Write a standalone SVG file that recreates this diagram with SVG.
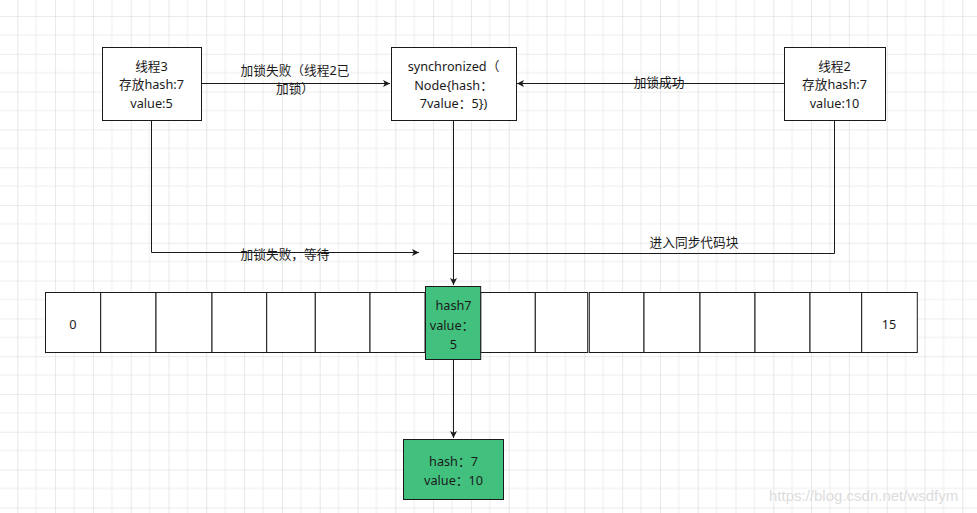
<svg xmlns="http://www.w3.org/2000/svg" width="977" height="513" viewBox="0 0 977 513">
<style>
.t{font-family:"Noto Sans","Noto Sans CJK SC",sans-serif;font-size:12.7px;fill:#1a1a1a;text-anchor:middle}
.box{fill:#fff;stroke:#1a1a1a;stroke-width:1}
.g{fill:#42c17e;stroke:#1a1a1a;stroke-width:1}
.e{fill:none;stroke:#1a1a1a;stroke-width:1}
.wm{font-family:"Liberation Sans",Arial,sans-serif;font-size:15px;fill:#dcdcdc;text-anchor:start}
</style>
<defs>
<pattern id="grid" patternUnits="userSpaceOnUse" x="17.3" y="16" width="37.8" height="37.8">
<path d="M18.9,0V37.8M0,18.9H37.8" stroke="#ededed" stroke-width="1" fill="none"/>
<path d="M0,0V37.8M0,0H37.8" stroke="#d9d9d9" stroke-width="1.2" fill="none"/>
</pattern>
<marker id="arr" markerUnits="userSpaceOnUse" markerWidth="9" markerHeight="8" refX="7" refY="3.5" orient="auto">
<path d="M0,0L7,3.5L0,7L1.8,3.5z" fill="#1a1a1a"/>
</marker>
</defs>
<rect width="977" height="513" fill="#fff"/>
<rect width="977" height="513" fill="url(#grid)"/>
<g id="connectors">
<path class="e" d="M201.5,83.5H390" marker-end="url(#arr)"/>
<path class="e" d="M784,83.5H517" marker-end="url(#arr)"/>
<path class="e" d="M151.5,120.5V252.5H419" marker-end="url(#arr)"/>
<path class="e" d="M453.5,120.5V285" marker-end="url(#arr)"/>
<path class="e" d="M834.5,120.5V253.5H453.5"/>
<path class="e" d="M453.5,359.5V438" marker-end="url(#arr)"/>
<text class="t" x="295" y="74.5">加锁失败（线程2已</text>
<text class="t" x="295" y="92.5">加锁）</text>
<text class="t" x="659" y="87">加锁成功</text>
<text class="t" x="285" y="259">加锁失败，等待</text>
<text class="t" x="694" y="247">进入同步代码块</text>
</g>
<g id="thread3">
<rect class="box" x="102.5" y="47.5" width="99" height="73"/>
<text class="t" x="151.5" y="70.5">线程3</text>
<text class="t" x="151.5" y="89">存放hash:7</text>
<text class="t" x="151.5" y="107.5">value:5</text>
</g>
<g id="sync">
<rect class="box" x="391.5" y="47.5" width="125" height="73"/>
<text class="t" x="453.5" y="70.5">synchronized（</text>
<text class="t" x="453.5" y="89.5">Node{hash：</text>
<text class="t" x="453.5" y="108">7value：5})</text>
</g>
<g id="thread2">
<rect class="box" x="784.5" y="47.5" width="101" height="73"/>
<text class="t" x="834.5" y="70.5">线程2</text>
<text class="t" x="834.5" y="89">存放hash:7</text>
<text class="t" x="834.5" y="107.5">value:10</text>
</g>
<g id="array">
<rect class="box" x="45.5" y="292.5" width="55.2" height="60"/>
<rect class="box" x="100.7" y="292.5" width="55.3" height="60"/>
<rect class="box" x="156" y="292.5" width="56" height="60"/>
<rect class="box" x="212" y="292.5" width="54.7" height="60"/>
<rect class="box" x="266.7" y="292.5" width="48.6" height="60"/>
<rect class="box" x="315.3" y="292.5" width="54.7" height="60"/>
<rect class="box" x="370" y="292.5" width="55" height="60"/>
<rect class="box" x="480.7" y="292.5" width="54.6" height="60"/>
<rect class="box" x="535.3" y="292.5" width="52.4" height="60"/>
<rect class="box" x="589.3" y="292.5" width="54.7" height="60"/>
<rect class="box" x="644" y="292.5" width="56" height="60"/>
<rect class="box" x="700" y="292.5" width="55" height="60"/>
<rect class="box" x="755" y="292.5" width="55" height="60"/>
<rect class="box" x="810" y="292.5" width="51.7" height="60"/>
<rect class="box" x="861.7" y="292.5" width="55.6" height="60"/>
<text class="t" x="73" y="329">0</text>
<text class="t" x="889" y="329">15</text>
</g>
<g id="cell7">
<rect class="g" x="425.5" y="286.5" width="55.2" height="73"/>
<text class="t" x="453.5" y="310">hash7</text>
<text class="t" x="452" y="329.5">value：</text>
<text class="t" x="453.5" y="348.5">5</text>
</g>
<g id="node10">
<rect class="g" x="403.5" y="439.5" width="100" height="60"/>
<text class="t" x="453.5" y="466">hash：7</text>
<text class="t" x="453.5" y="484.5">value：10</text>
</g>
<text class="wm" x="769" y="500.5">https://blog.csdn.net/wsdfym</text>
</svg>
